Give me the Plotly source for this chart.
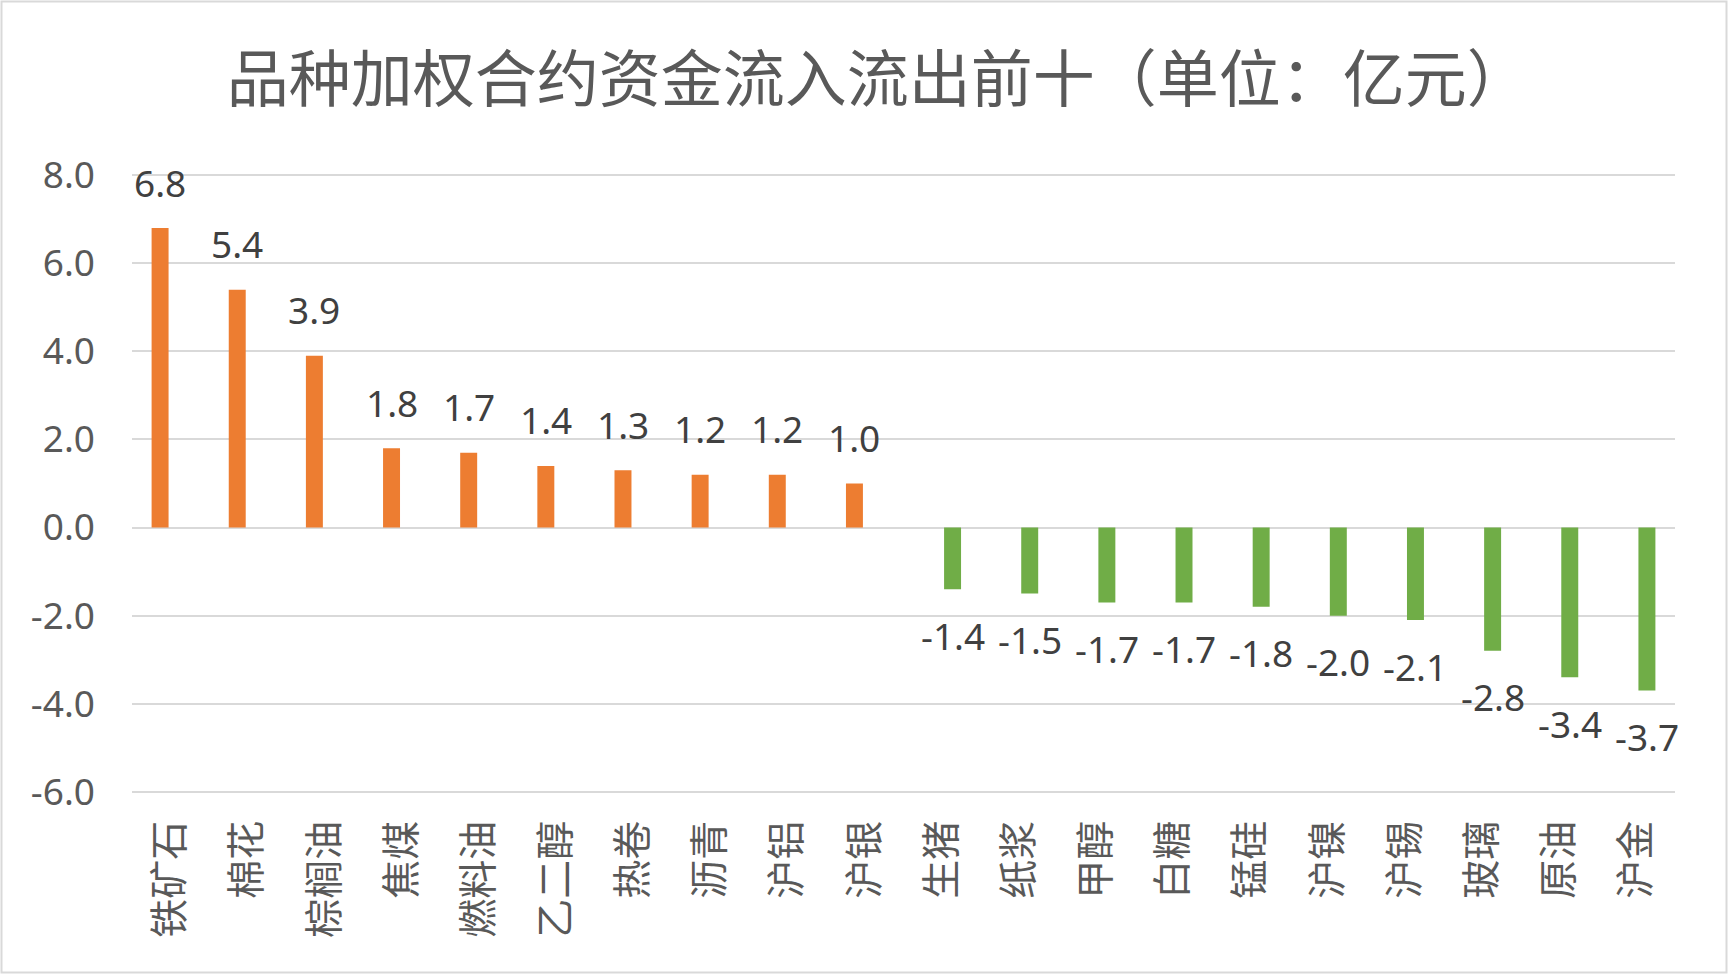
import plotly.graph_objects as go

# 品种与资金流入流出（亿元）
categories = ["铁矿石", "棉花", "棕榈油", "焦煤", "燃料油", "乙二醇", "热卷", "沥青", "沪铝", "沪银",
              "生猪", "纸浆", "甲醇", "白糖", "锰硅", "沪镍", "沪锡", "玻璃", "原油", "沪金"]
values = [6.8, 5.4, 3.9, 1.8, 1.7, 1.4, 1.3, 1.2, 1.2, 1.0,
          -1.4, -1.5, -1.7, -1.7, -1.8, -2.0, -2.1, -2.8, -3.4, -3.7]
y_ticks = [-6, -4, -2, 0, 2, 4, 6, 8]

ORANGE = "#ED7D31"
GREEN = "#70AD47"
W, H = 1728, 974
L, R, T, B = 132, 53, 173, 180
FONT = "Noto Sans CJK SC"
NUM_FONT = "Noto Sans"

# Excel drew this as two series (inflow / outflow), so each bar sits
# off-centre in its category slot
BAR_W = 0.22
SHIFT = 0.136
pw = W - L - R
ph = H - T - B
px_per_cat = pw / len(categories)

inflow = [(c, v) for c, v in zip(categories, values) if v >= 0]
outflow = [(c, v) for c, v in zip(categories, values) if v < 0]

fig = go.Figure()
for rows, color, sign in ((inflow, ORANGE, -1), (outflow, GREEN, 1)):
    fig.add_trace(go.Bar(
        x=[c for c, _ in rows], y=[v for _, v in rows],
        marker=dict(color=color, line=dict(width=0)),
        width=BAR_W, offset=sign * SHIFT - BAR_W / 2,
        hoverinfo="x+y",
    ))
    for c, v in rows:
        fig.add_annotation(
            x=c, y=v, text=f"{v:.1f}", showarrow=False,
            xshift=sign * SHIFT * px_per_cat,
            yshift=46 if v >= 0 else -46,
            font=dict(family=NUM_FONT, size=37, color="#404040"),
        )

fig.add_shape(
    type="rect", xref="paper", yref="paper",
    x0=(1.5 - L) / pw, x1=(W - 1.5 - L) / pw,
    y0=-(B - 1.5) / ph, y1=1 + (T - 1.5) / ph,
    line=dict(color="#D9D9D9", width=2), layer="below",
)

fig.update_layout(
    width=W, height=H,
    margin=dict(l=L, r=R, t=T, b=B),
    paper_bgcolor="white", plot_bgcolor="white",
    showlegend=False, barmode="overlay",
    title=dict(
        text="品种加权合约资金流入流出前十（单位：亿元）",
        x=0.508, xref="container", xanchor="center",
        y=1 - 80 / H, yanchor="middle",
        font=dict(family=FONT, size=62, color="#595959"),
    ),
    font=dict(family=FONT, color="#595959"),
)
fig.update_xaxes(
    categoryorder="array", categoryarray=categories,
    range=[-0.5, len(categories) - 0.5],
    tickangle=-90,
    tickfont=dict(family=FONT, size=39, color="#595959"),
    showline=False, showgrid=False, ticks="",
    ticklabelstandoff=18,
)
fig.update_yaxes(
    range=[-6.05, 8.05], tickvals=y_ticks,
    ticktext=[f"{t:.1f}" for t in y_ticks],
    tickfont=dict(family=NUM_FONT, size=37, color="#595959"),
    showgrid=True, gridcolor="#D9D9D9", gridwidth=2,
    zeroline=True, zerolinecolor="#D9D9D9", zerolinewidth=2,
    showline=False, ticks="",
    ticklabelstandoff=36,
)

fig.write_html("out.html", config={"displayModeBar": False},
               post_script="document.body.style.margin='0';")
